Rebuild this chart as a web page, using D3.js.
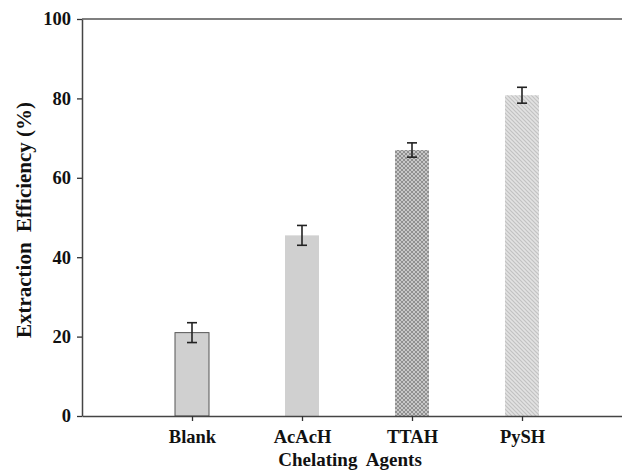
<!DOCTYPE html>
<html>
<head>
<meta charset="utf-8">
<script src="https://cdn.jsdelivr.net/npm/d3@7"></script>
<style>
body { margin: 0; background: #fff; }
text { font-family: "Liberation Serif", "Times New Roman", serif; font-weight: bold; fill: #111; }
</style>
</head>
<body>
<svg width="622" height="472"></svg>
<script>
var categories = ['Blank', 'AcAcH', 'TTAH', 'PySH'];
var values = [21, 45.5, 67, 80.8];
var errors = [2.5, 2.5, 1.8, 2];
var yTicks = [0, 20, 40, 60, 80, 100];

var svg = d3.select('svg');
var plotLeft = 82, plotRight = 632, plotTop = 19, plotBottom = 416;

// patterns for the hatched bars
var defs = svg.append('defs');
var cross = defs.append('pattern')
	.attr('id', 'cross').attr('patternUnits', 'userSpaceOnUse')
	.attr('width', 4).attr('height', 4);
cross.append('rect').attr('width', 4).attr('height', 4).attr('fill', '#c8c8c8');
cross.append('path').attr('d', 'M0,0L4,4M4,0L0,4')
	.attr('stroke', '#909090').attr('stroke-width', 1);

var diag = defs.append('pattern')
	.attr('id', 'diag').attr('patternUnits', 'userSpaceOnUse')
	.attr('width', 4).attr('height', 4);
diag.append('rect').attr('width', 4).attr('height', 4).attr('fill', '#e2e2e2');
diag.append('path').attr('d', 'M-1,-1L5,5M-1,3L1,5M3,-1L5,1')
	.attr('stroke', '#c2c2c2').attr('stroke-width', 1.2);

var fills = ['#d0d0d0', '#d0d0d0', 'url(#cross)', 'url(#diag)'];

var x = d3.scalePoint().domain(categories).range([plotLeft, plotRight]).padding(1);
var y = d3.scaleLinear().domain([0, 100]).range([plotBottom, plotTop]);
var barW = 34;

svg.selectAll('.bar')
	.data(categories)
	.enter()
	.append('rect')
		.attr('class', 'bar')
		.attr('x', function(d){return x(d) - barW/2})
		.attr('y', function(d, i){return y(values[i])})
		.attr('width', barW)
		.attr('height', function(d, i){return plotBottom - y(values[i])})
		.attr('fill', function(d, i){return fills[i]})
		.attr('stroke', function(d, i){return i == 0 ? '#555' : 'none'})
		.attr('stroke-width', 1);

// error bars
var eb = svg.selectAll('.err')
	.data(categories)
	.enter()
	.append('g')
		.attr('class', 'err')
		.attr('stroke', '#222')
		.attr('stroke-width', 1.6);
eb.append('line')
	.attr('x1', function(d){return x(d)}).attr('x2', function(d){return x(d)})
	.attr('y1', function(d, i){return y(values[i] + errors[i])})
	.attr('y2', function(d, i){return y(values[i] - errors[i])});
eb.append('line')
	.attr('x1', function(d){return x(d) - 5}).attr('x2', function(d){return x(d) + 5})
	.attr('y1', function(d, i){return y(values[i] + errors[i])})
	.attr('y2', function(d, i){return y(values[i] + errors[i])});
eb.append('line')
	.attr('x1', function(d){return x(d) - 5}).attr('x2', function(d){return x(d) + 5})
	.attr('y1', function(d, i){return y(values[i] - errors[i])})
	.attr('y2', function(d, i){return y(values[i] - errors[i])});

// axes
svg.append('g')
	.attr('transform', 'translate(' + plotLeft + ',0)')
	.call(d3.axisLeft(y).tickValues(yTicks).tickSize(5).tickSizeOuter(0).tickPadding(6));
svg.append('g')
	.attr('transform', 'translate(0,' + plotBottom + ')')
	.call(d3.axisBottom(x).tickSize(5).tickSizeOuter(0).tickPadding(9));

svg.selectAll('.domain').attr('stroke', '#444').attr('stroke-width', 1.5);
svg.selectAll('.tick line').attr('stroke', '#333').attr('stroke-width', 1.3);
svg.selectAll('.tick text')
	.style('font-family', '"Liberation Serif", serif')
	.style('font-weight', 'bold')
	.style('font-size', '18.5px')
	.attr('fill', '#111');

// top frame line
svg.append('line')
	.attr('x1', plotLeft).attr('x2', 622)
	.attr('y1', y(100)).attr('y2', y(100))
	.attr('stroke', '#555').attr('stroke-width', 1.5);

svg.append('text')
	.attr('transform', 'translate(31,220) rotate(-90)')
	.attr('text-anchor', 'middle')
	.style('font-size', '21px')
	.style('white-space', 'pre')
	.text('Extraction  Efficiency (%)');

svg.append('text')
	.attr('x', 350).attr('y', 466)
	.attr('text-anchor', 'middle')
	.style('font-size', '19px')
	.style('white-space', 'pre')
	.text('Chelating  Agents');
</script>
</body>
</html>
